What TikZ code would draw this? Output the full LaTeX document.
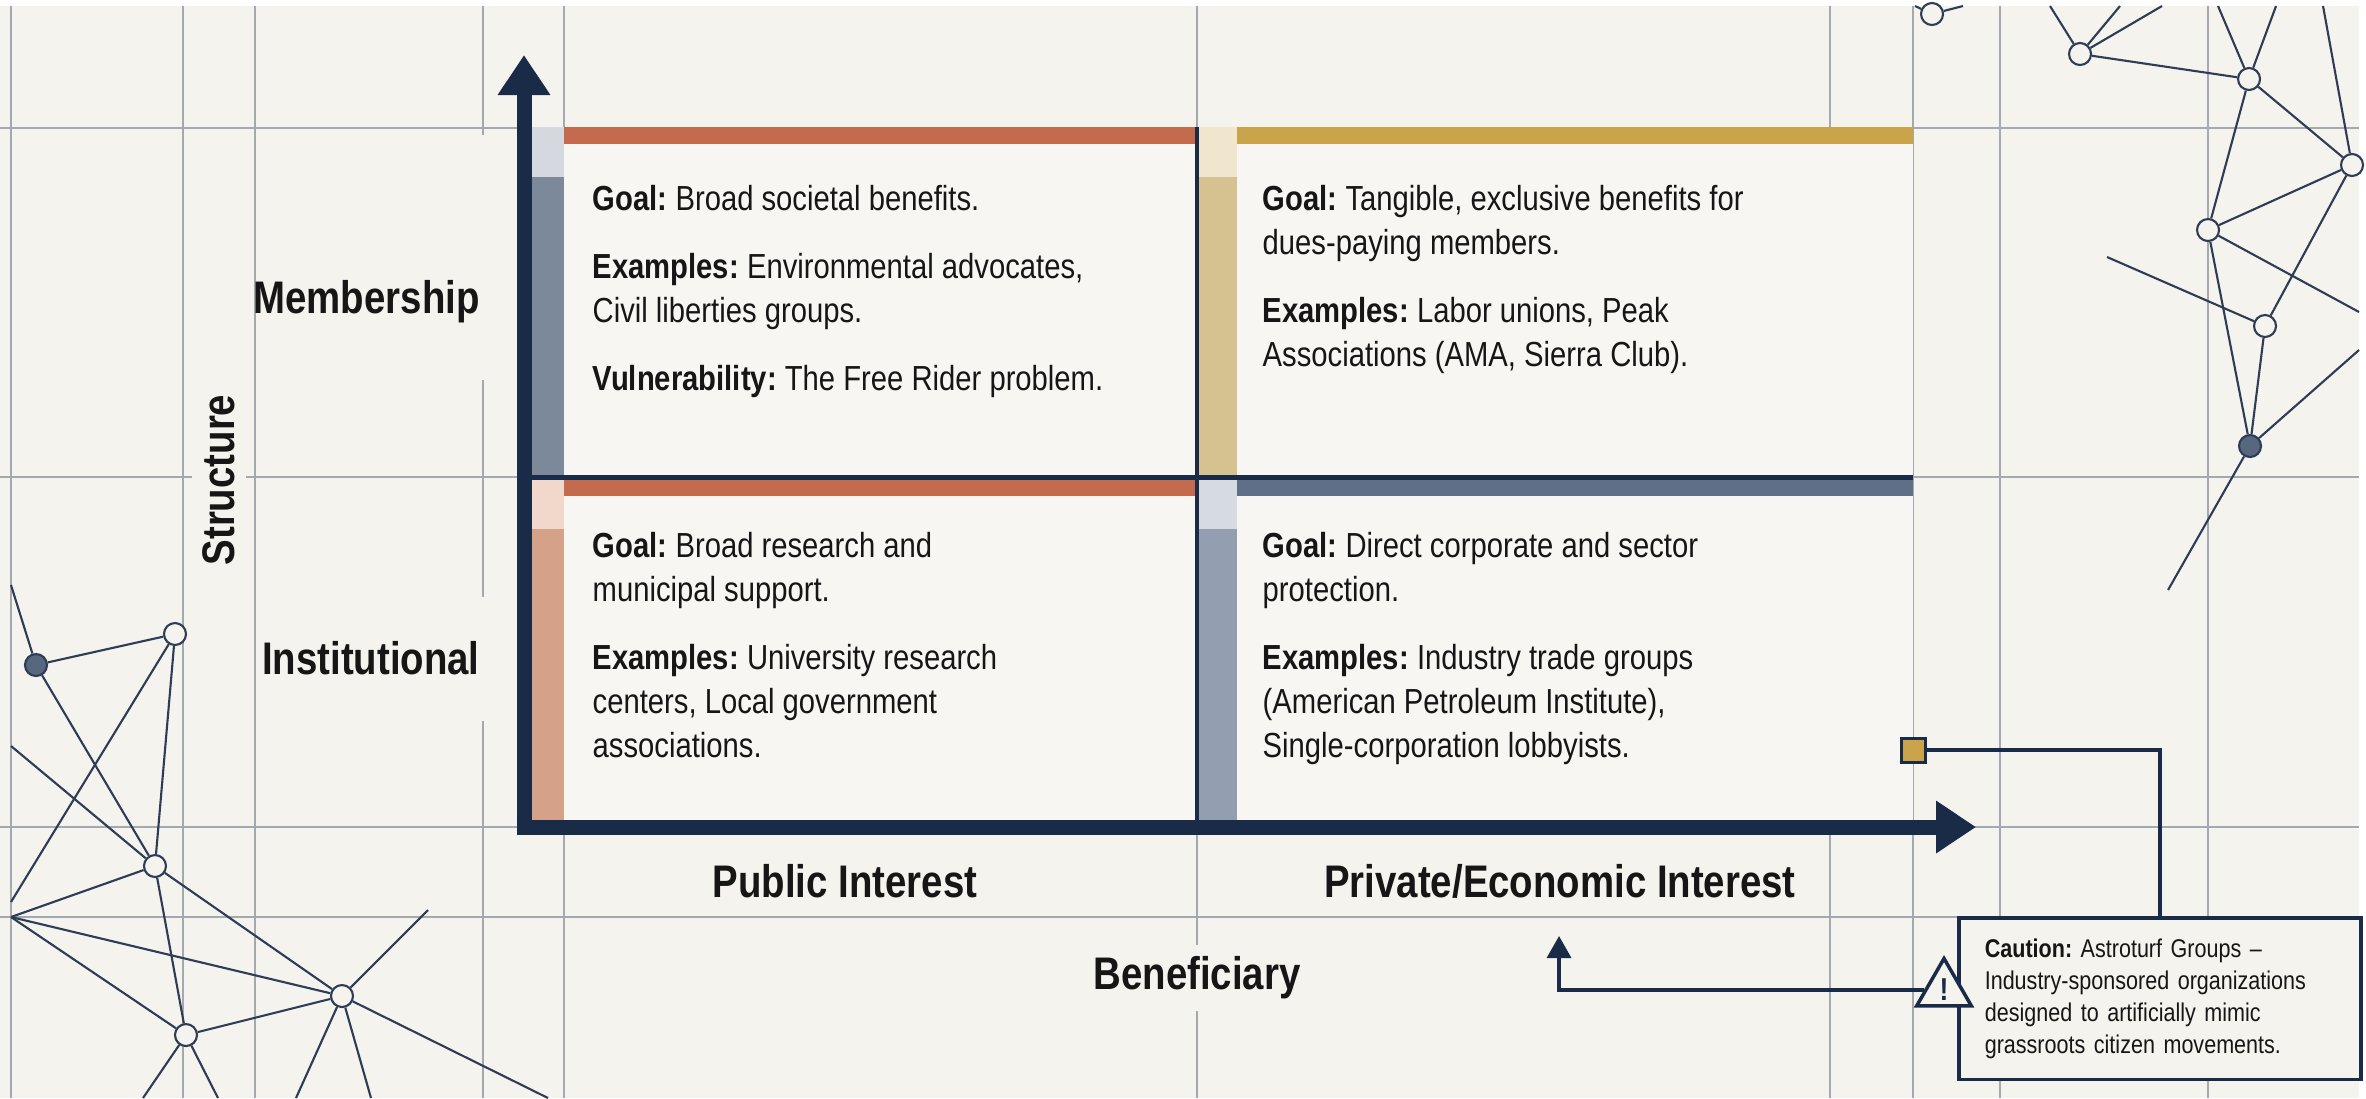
\documentclass[tikz,border=0pt]{standalone}
\usepackage{fontspec}
\setmainfont{Liberation Sans}[FakeStretch = 0.84]
\usetikzlibrary{arrows.meta, shapes.geometric}

\definecolor{paper}{HTML}{F4F3EE}
\definecolor{cellwhite}{HTML}{F7F6F2}
\definecolor{gridgray}{HTML}{A4A9AF}
\definecolor{netblue}{HTML}{2E3D55}
\definecolor{netslate}{HTML}{56677F}
\definecolor{navy}{HTML}{1A2B48}
\definecolor{ink}{HTML}{161616}
\definecolor{rust}{HTML}{C46A4D}
\definecolor{ochre}{HTML}{C9A44A}
\definecolor{steel}{HTML}{5E6F87}
\definecolor{tlpale}{HTML}{D5D9DF}
\definecolor{tldeep}{HTML}{7C899A}
\definecolor{trpale}{HTML}{F0E5CD}
\definecolor{trdeep}{HTML}{D6C190}
\definecolor{blpale}{HTML}{F1D8CB}
\definecolor{bldeep}{HTML}{D6A189}
\definecolor{brpale}{HTML}{D6DBE2}
\definecolor{brdeep}{HTML}{939FB0}

\tikzset{
	gridline/.style = {draw = gridgray, line width = 0.45pt},
	netline/.style = {draw = netblue, line width = 0.6pt},
	netdot/.style = {circle, draw = netblue, line width = 0.6pt, fill = paper, minimum size = 2.2mm, inner sep = 0pt},
	netfull/.style = {netdot, fill = netslate},
	axisline/.style = {draw = navy, line width = 1.5mm, -{Triangle[length = 4mm, width = 5mm]}},
	rowlabel/.style = {text = ink, font = \fontsize{13}{15.6}\selectfont\bfseries},
	cellnote/.style = {anchor = north west, inner sep = 0pt, align = left, text = ink, font = \fontsize{9.9}{12.5}\selectfont},
	cautionbox/.style = {draw = navy, line width = 0.35mm, fill = paper, align = left, text width = 35mm, inner xsep = 2.6mm, inner ysep = 2.1mm, minimum height = 16mm, text = ink, font = \fontsize{7.3}{9.1}\selectfont},
	warnsign/.style = {regular polygon, regular polygon sides = 3, draw = navy, line width = 0.35mm, fill = paper, minimum size = 6.3mm, inner sep = 0pt, text = navy, font = \fontsize{9}{9}\selectfont\bfseries},
	goldtag/.style = {rectangle, draw = navy, line width = 0.3mm, fill = ochre, minimum size = 2.4mm, inner sep = 0pt},
	calloutline/.style = {draw = navy, line width = 0.35mm},
}

\begin{document}
\frenchspacing
\begin{tikzpicture}[x = 0.1mm, y = -0.1mm]
	\useasboundingbox (0, 0) rectangle (2366, 1098) ;
	\fill[paper] (0, 0) rectangle (2366, 1098) ;
	\fill[white] (0, 0) rectangle (2366, 6) ;
	\fill[white] (2359, 0) rectangle (2366, 1098) ;

	\begin{scope} % Grid
		\foreach \x in {11, 183, 255, 1197, 1913, 2000, 2208}{
			\draw[gridline] (\x, 6) -- (\x, 1098) ;
		}
		\foreach \x in {564, 1830}{
			\draw[gridline] (\x, 6) -- (\x, 128) (\x, 827) -- (\x, 1098) ;
		}
		\draw[gridline] (483, 6) -- (483, 135) (483, 380) -- (483, 597) (483, 721) -- (483, 1098) ;
		\foreach \y in {128, 477, 827, 917}{
			\draw[gridline] (0, \y) -- (2359, \y) ;
		}
	\end{scope}

	\begin{scope} % Network, lower left
		\node[netfull] (la) at (36, 665) {} ;
		\node[netdot] (lb) at (175, 634) {} ;
		\node[netdot] (lc) at (155, 866) {} ;
		\node[netdot] (ld) at (342, 996) {} ;
		\node[netdot] (le) at (186, 1035) {} ;
		\coordinate (ledge a) at (11, 585) ;
		\coordinate (ledge b) at (11, 746) ;
		\coordinate (ledge c) at (11, 902) ;
		\coordinate (ledge d) at (11, 917) ;
		\coordinate (lfree a) at (428, 910) ;
		\coordinate (lfree b) at (548, 1098) ;
		\coordinate (lfree c) at (296, 1098) ;
		\coordinate (lfree d) at (371, 1098) ;
		\coordinate (lfree e) at (143, 1098) ;
		\coordinate (lfree f) at (218, 1098) ;
		\foreach \a/\b in {la/ledge a, la/lb, la/lc, lb/lc, lb/ledge c, ledge b/lc, lc/ledge d, lc/ld, lc/le,
			ledge d/ld, ledge d/le, le/ld, ld/lfree a, ld/lfree b, ld/lfree c, ld/lfree d, le/lfree e, le/lfree f}{
			\draw[netline] (\a) -- (\b) ;
		}
	\end{scope}

	\begin{scope} % Network, upper right
		\node[netdot] (ra) at (1932, 14) {} ;
		\node[netdot] (rp) at (2080, 54) {} ;
		\node[netdot] (rq) at (2249, 79) {} ;
		\node[netdot] (rr) at (2352, 165) {} ;
		\node[netdot] (rs) at (2208, 230) {} ;
		\node[netdot] (rt) at (2265, 326) {} ;
		\node[netfull] (ru) at (2250, 446) {} ;
		\coordinate (rtop a) at (1915, 6) ;
		\coordinate (rtop b) at (1963, 6) ;
		\coordinate (rtop c) at (2050, 6) ;
		\coordinate (rtop d) at (2120, 6) ;
		\coordinate (rtop e) at (2162, 6) ;
		\coordinate (rtop f) at (2218, 6) ;
		\coordinate (rtop g) at (2276, 6) ;
		\coordinate (rtop h) at (2323, 6) ;
		\coordinate (redge a) at (2359, 312) ;
		\coordinate (redge b) at (2359, 350) ;
		\coordinate (rfree a) at (2107, 257) ;
		\coordinate (rfree b) at (2168, 590) ;
		\foreach \a/\b in {ra/rtop a, ra/rtop b, rp/rtop c, rp/rtop d, rp/rtop e, rp/rq, rq/rtop f, rq/rtop g,
			rq/rr, rq/rs, rr/rtop h, rr/rs, rr/rt, rs/redge a, rs/ru, rt/ru, rfree a/rt, ru/redge b, ru/rfree b}{
			\draw[netline] (\a) -- (\b) ;
		}
	\end{scope}

	\begin{scope} % Quadrants
		\foreach \xl/\xs/\xr/\yt/\yb/\bar/\pale/\deep in {
			531/564/1195/127/475/rust/tlpale/tldeep,
			1199/1237/1913/127/475/ochre/trpale/trdeep,
			531/564/1195/479/820/rust/blpale/bldeep,
			1199/1237/1913/479/820/steel/brpale/brdeep}{
			\fill[cellwhite] (\xl, \yt) rectangle (\xr, \yb) ;
			\fill[\pale] (\xl, \yt) rectangle (\xs, \yt + 50) ;
			\fill[\deep] (\xl, \yt + 50) rectangle (\xs, \yb) ;
			\fill[\bar] (\xs, \yt) rectangle (\xr, \yt + 17) ;
		}
		\draw[navy, line width = 0.5mm] (524, 477) -- (1913, 477) ;
		\draw[navy, line width = 0.35mm] (1197, 127) -- (1197, 827) ;
	\end{scope}

	% axes
	\coordinate (corner) at (524, 827) ;
	\coordinate (structure tip) at (524, 55) ;
	\coordinate (beneficiary tip) at (1976, 827) ;
	\draw[axisline] ([yshift = -0.75mm] corner) -- (structure tip) ;
	\draw[axisline] ([xshift = -0.75mm] corner) -- (beneficiary tip) ;

	\node[cellnote] (tlnote) at (592, 185) {\textbf{Goal:} Broad societal benefits.\\[6.8pt]
		\textbf{Examples:} Environmental advocates,\\ Civil liberties groups.\\[6.8pt]
		\textbf{Vulnerability:} The Free Rider problem.} ;
	\node[cellnote] (trnote) at (1262, 185) {\textbf{Goal:} Tangible, exclusive benefits for\\ dues-paying members.\\[6.8pt]
		\textbf{Examples:} Labor unions, Peak\\ Associations (AMA, Sierra Club).} ;
	\node[cellnote] (blnote) at (592, 532) {\textbf{Goal:} Broad research and\\ municipal support.\\[6.8pt]
		\textbf{Examples:} University research\\ centers, Local government\\ associations.} ;
	\node[cellnote] (brnote) at (1262, 532) {\textbf{Goal:} Direct corporate and sector\\ protection.\\[6.8pt]
		\textbf{Examples:} Industry trade groups\\ (American Petroleum Institute),\\ Single-corporation lobbyists.} ;

	\node[rowlabel, anchor = east] (membership) at (492, 302) {Membership} ;
	\node[rowlabel, anchor = east] (institutional) at (492, 658) {Institutional} ;
	\node[rowlabel, rotate = 90, fill = paper, inner ysep = 3pt] (structure) at (219, 480) {Structure} ;
	\node[rowlabel] (public) at (845, 881) {Public Interest} ;
	\node[rowlabel] (private) at (1560, 881) {Private/Economic Interest} ;
	\node[rowlabel, fill = paper] (beneficiary) at (1197, 978) {Beneficiary} ;

	% astroturf callout
	\node[goldtag] (tag) at (1913, 750) {} ;
	\node[cautionbox, anchor = north west] (caution) at (1957, 916) {\textbf{Caution:} Astroturf Groups –\\
		Industry-sponsored organizations\\ designed to artificially mimic\\ grassroots citizen movements.} ;
	\node[warnsign] (warn) at (1944, 990) {!} ;
	\coordinate (private hook) at (1559, 936) ;
	\draw[calloutline] (tag.east) -| (caution.north) ;
	\draw[calloutline, -{Triangle[length = 2.2mm, width = 2.4mm]}] (warn.west) -| (private hook) ;
\end{tikzpicture}
\end{document}
